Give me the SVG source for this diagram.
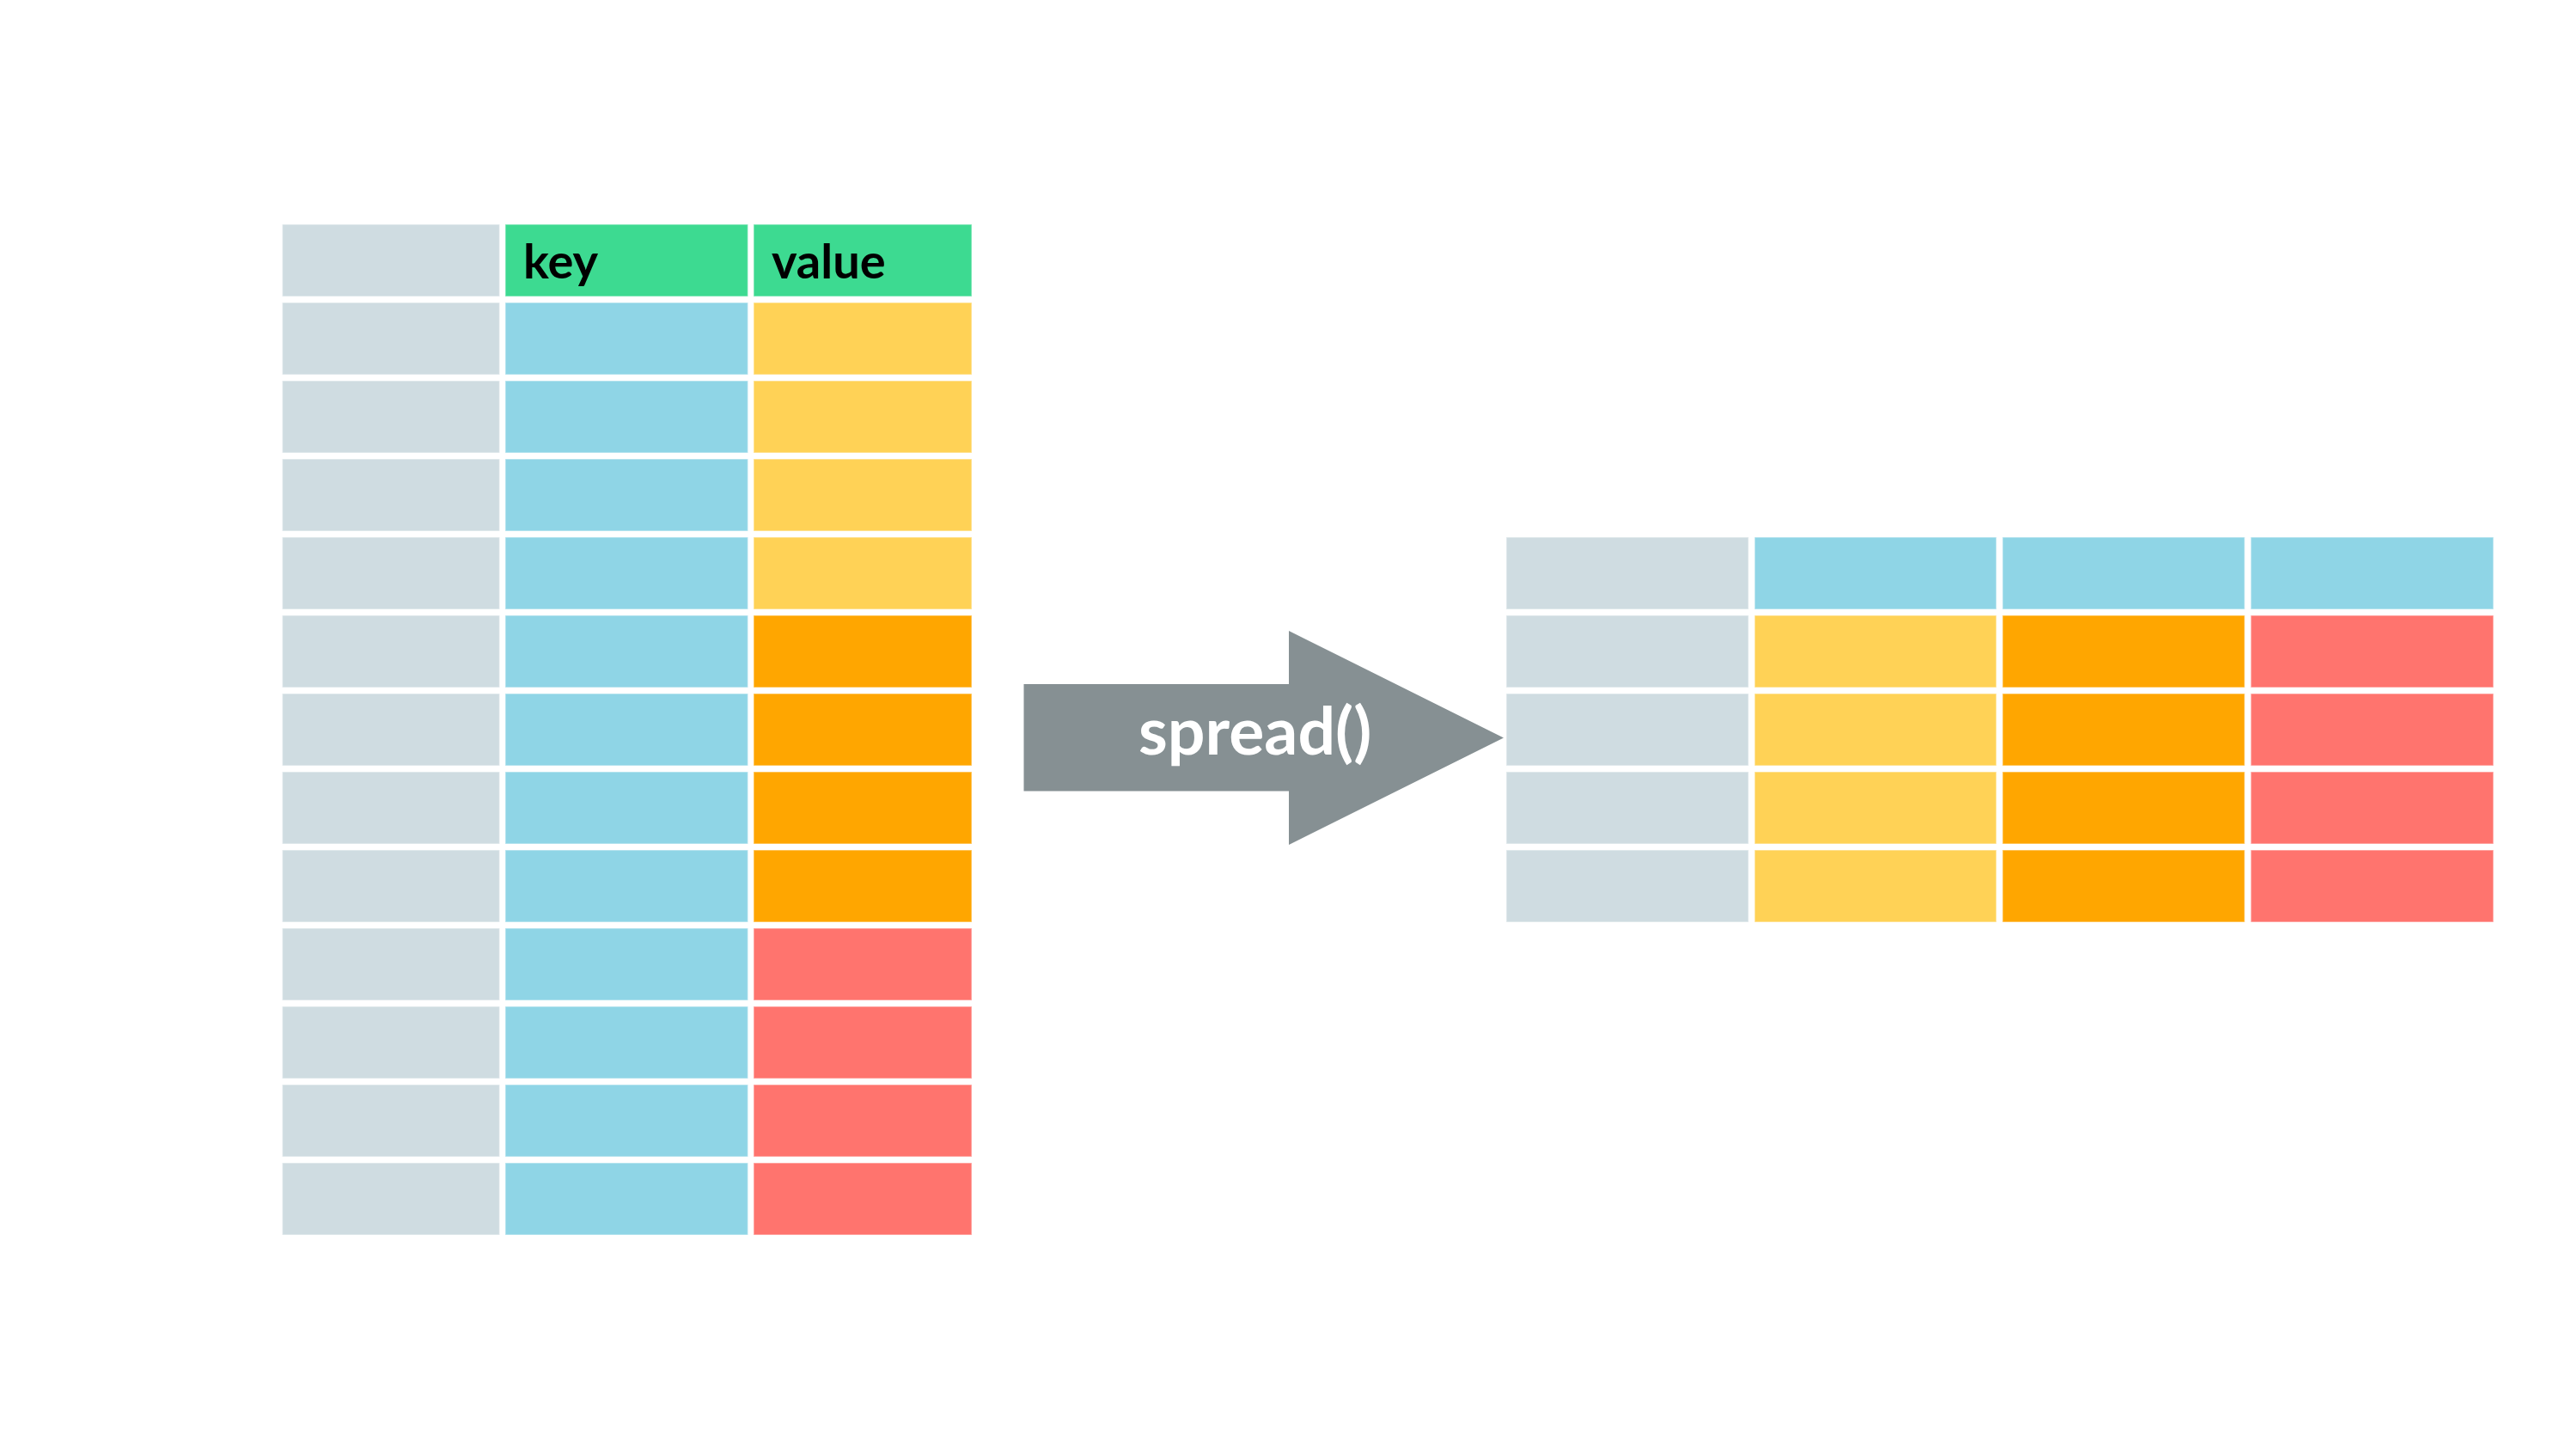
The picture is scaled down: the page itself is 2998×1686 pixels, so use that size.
<svg xmlns="http://www.w3.org/2000/svg" width="2998" height="1686" viewBox="0 0 2998 1686">
<style>
.c{stroke:#ffffff;stroke-opacity:0.45;stroke-width:1.5}
.g{fill:#CFDCE1}
.k{fill:#3DDA91}
.b{fill:#8FD5E6}
.y{fill:#FFD256}
.o{fill:#FFA600}
.r{fill:#FF746E}
.h{font-family:Lato,"Liberation Sans",sans-serif;font-weight:700;font-size:56px;fill:#000000}
.a{font-family:Lato,"Liberation Sans",sans-serif;font-weight:700;font-size:77px;fill:#ffffff}
</style>
<rect x="0" y="0" width="2998" height="1686" fill="#ffffff"/>
<g id="left-table">
<g id="left-header">
<rect class="c g" x="328.5" y="261" width="253" height="84"/>
<rect class="c k" x="588" y="261" width="282.5" height="84"/>
<rect class="c k" x="877" y="261" width="254" height="84"/>
<text class="h" x="609" y="324">key</text>
<text class="h" x="898" y="324">value</text>
</g>
<g id="left-id-col">
<rect class="c g" x="328.5" y="352" width="253" height="84"/>
<rect class="c g" x="328.5" y="443" width="253" height="84"/>
<rect class="c g" x="328.5" y="534" width="253" height="84"/>
<rect class="c g" x="328.5" y="625" width="253" height="84"/>
<rect class="c g" x="328.5" y="716" width="253" height="84"/>
<rect class="c g" x="328.5" y="807" width="253" height="84"/>
<rect class="c g" x="328.5" y="898" width="253" height="84"/>
<rect class="c g" x="328.5" y="989" width="253" height="84"/>
<rect class="c g" x="328.5" y="1080" width="253" height="84"/>
<rect class="c g" x="328.5" y="1171" width="253" height="84"/>
<rect class="c g" x="328.5" y="1262" width="253" height="84"/>
<rect class="c g" x="328.5" y="1353" width="253" height="84"/>
</g>
<g id="left-key-col">
<rect class="c b" x="588" y="352" width="282.5" height="84"/>
<rect class="c b" x="588" y="443" width="282.5" height="84"/>
<rect class="c b" x="588" y="534" width="282.5" height="84"/>
<rect class="c b" x="588" y="625" width="282.5" height="84"/>
<rect class="c b" x="588" y="716" width="282.5" height="84"/>
<rect class="c b" x="588" y="807" width="282.5" height="84"/>
<rect class="c b" x="588" y="898" width="282.5" height="84"/>
<rect class="c b" x="588" y="989" width="282.5" height="84"/>
<rect class="c b" x="588" y="1080" width="282.5" height="84"/>
<rect class="c b" x="588" y="1171" width="282.5" height="84"/>
<rect class="c b" x="588" y="1262" width="282.5" height="84"/>
<rect class="c b" x="588" y="1353" width="282.5" height="84"/>
</g>
<g id="left-value-col">
<rect class="c y" x="877" y="352" width="254" height="84"/>
<rect class="c y" x="877" y="443" width="254" height="84"/>
<rect class="c y" x="877" y="534" width="254" height="84"/>
<rect class="c y" x="877" y="625" width="254" height="84"/>
<rect class="c o" x="877" y="716" width="254" height="84"/>
<rect class="c o" x="877" y="807" width="254" height="84"/>
<rect class="c o" x="877" y="898" width="254" height="84"/>
<rect class="c o" x="877" y="989" width="254" height="84"/>
<rect class="c r" x="877" y="1080" width="254" height="84"/>
<rect class="c r" x="877" y="1171" width="254" height="84"/>
<rect class="c r" x="877" y="1262" width="254" height="84"/>
<rect class="c r" x="877" y="1353" width="254" height="84"/>
</g>
</g>
<g id="connectors">
<g id="spread-arrow">
<polygon points="1191.5,796 1500,796 1500,734 1750,858.5 1500,983 1500,920.5 1191.5,920.5" fill="#869093"/>
<text class="a" x="1325" y="878">spread()</text>
</g>
</g>
<g id="right-table">
<g id="right-header">
<rect class="c g" x="1753" y="625" width="282" height="84"/>
<rect class="c b" x="2042" y="625" width="281.5" height="84"/>
<rect class="c b" x="2330.5" y="625" width="282" height="84"/>
<rect class="c b" x="2619.5" y="625" width="282.5" height="84"/>
</g>
<g id="right-id-col">
<rect class="c g" x="1753" y="716" width="282" height="84"/>
<rect class="c g" x="1753" y="807" width="282" height="84"/>
<rect class="c g" x="1753" y="898" width="282" height="84"/>
<rect class="c g" x="1753" y="989" width="282" height="84"/>
</g>
<g id="right-col-1">
<rect class="c y" x="2042" y="716" width="281.5" height="84"/>
<rect class="c y" x="2042" y="807" width="281.5" height="84"/>
<rect class="c y" x="2042" y="898" width="281.5" height="84"/>
<rect class="c y" x="2042" y="989" width="281.5" height="84"/>
</g>
<g id="right-col-2">
<rect class="c o" x="2330.5" y="716" width="282" height="84"/>
<rect class="c o" x="2330.5" y="807" width="282" height="84"/>
<rect class="c o" x="2330.5" y="898" width="282" height="84"/>
<rect class="c o" x="2330.5" y="989" width="282" height="84"/>
</g>
<g id="right-col-3">
<rect class="c r" x="2619.5" y="716" width="282.5" height="84"/>
<rect class="c r" x="2619.5" y="807" width="282.5" height="84"/>
<rect class="c r" x="2619.5" y="898" width="282.5" height="84"/>
<rect class="c r" x="2619.5" y="989" width="282.5" height="84"/>
</g>
</g>
</svg>
